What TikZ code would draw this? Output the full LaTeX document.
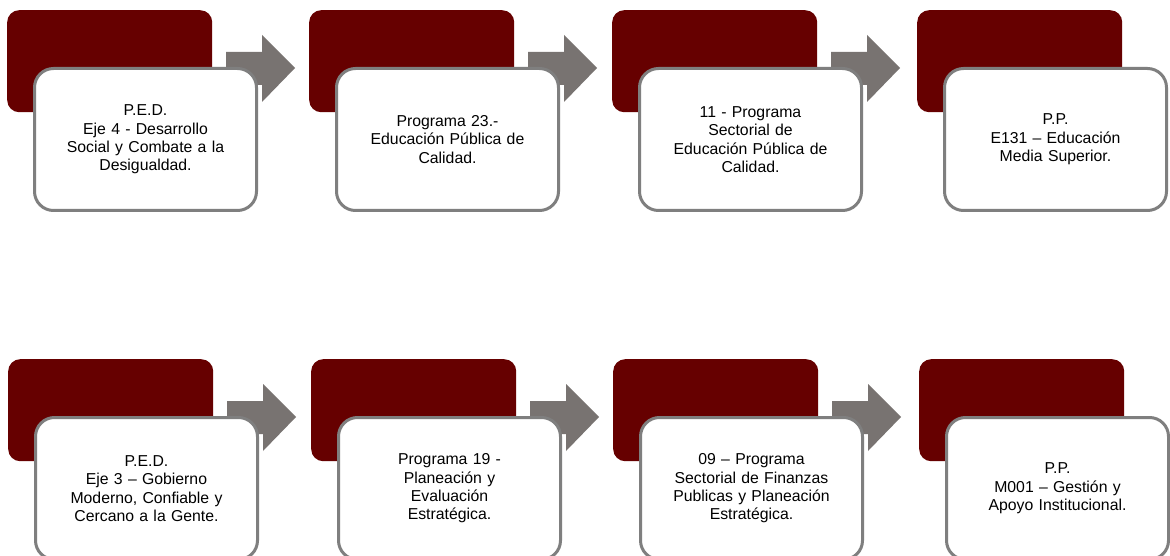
\documentclass[tikz,border=0pt]{standalone}
\usepackage{fontspec}
\setmainfont{Liberation Sans}
\definecolor{backred}{HTML}{660000}
\definecolor{framegray}{HTML}{7F7F7F}
\definecolor{arrowgray}{HTML}{787371}
\newcommand\stageblock[4]{%
  \node[backbox, anchor=north west] (#1b) at (#2,#3) {};
  \fill[arrowgray] (#2+219,#3+42) -- (#2+255,#3+42) -- (#2+255,#3+25) -- (#2+288,#3+58)
     -- (#2+255,#3+92) -- (#2+255,#3+75) -- (#2+219,#3+75) -- cycle;
  \node[frontbox, anchor=north west] (#1f) at (#2+26,#3+57) {#4};
}
\newcommand\laststage[4]{%
  \node[backbox, anchor=north west] (#1b) at (#2,#3) {};
  \node[frontbox, anchor=north west] (#1f) at (#2+26,#3+57) {#4};
}
\begin{document}
\begin{tikzpicture}[x=1pt,y=-1pt,
  backbox/.style={fill=backred, draw=none, rounded corners=12pt, minimum width=205pt, minimum height=102pt, inner sep=0pt},
  frontbox/.style={fill=white, draw=framegray, line width=3pt, rounded corners=19pt, minimum width=222pt, minimum height=142pt, inner sep=0pt, text width=210pt, align=center, font=\fontsize{15.8}{18.4}\selectfont}]
\clip (0,0) rectangle (1170,556);
\fill[white] (0,0) rectangle (1170,556);
\stageblock{a}{7}{10}{P.E.D.\\Eje 4 - Desarrollo\\Social y Combate a la\\Desigualdad.}
\stageblock{b}{309}{10}{Programa 23.-\\Educación Pública de\\Calidad.}
\stageblock{c}{612}{10}{11 - Programa\\Sectorial de\\Educación Pública de\\Calidad.}
\laststage{d}{917}{10}{P.P.\\E131 – Educación\\Media Superior.}
\stageblock{e}{8}{359}{P.E.D.\\Eje 3 – Gobierno\\Moderno, Confiable y\\Cercano a la Gente.}
\stageblock{f}{311}{359}{Programa 19 -\\Planeación y\\Evaluación\\Estratégica.}
\stageblock{g}{613}{359}{09 – Programa\\Sectorial de Finanzas\\Publicas y Planeación\\Estratégica.}
\laststage{h}{919}{359}{P.P.\\M001 – Gestión y\\Apoyo Institucional.}
\end{tikzpicture}
\end{document}
